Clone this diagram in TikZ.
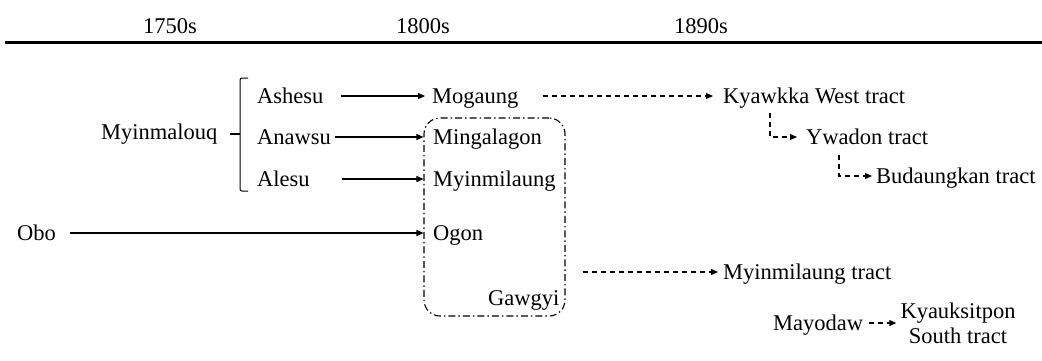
\documentclass[tikz,border=0pt]{standalone}
\usepackage{fontspec}
\setmainfont{Liberation Serif}
\usetikzlibrary{arrows.meta,calc}
\begin{document}
\begin{tikzpicture}[x=1pt,y=-1pt,
 lbl/.style={inner sep=0pt,anchor=base west,font=\fontsize{22.5}{26}\selectfont},
 arr/.style={line width=1.1pt,-{Triangle[length=7pt,width=6pt]}},
 darr/.style={arr,dash pattern=on 5pt off 4pt},
 grpbox/.style={draw,line width=1.1pt,rounded corners=16pt,dash pattern=on 7pt off 3pt on 1.5pt off 3pt,inner sep=0pt}]
\useasboundingbox (0,0) rectangle (1042,360);
% header
\node[lbl,anchor=base] (h1) at (170,33) {1750s};
\node[lbl,anchor=base] (h2) at (423,33) {1800s};
\node[lbl,anchor=base] (h3) at (701,33) {1890s};
\draw[line width=3pt] (5,42) -- (1042,42);
% nodes
\node[lbl] (myin) at (101,139) {Myinmalouq};
\node[lbl] (ashesu) at (257,103) {Ashesu};
\node[lbl] (anawsu) at (257,144) {Anawsu};
\node[lbl] (alesu) at (257,186) {Alesu};
\node[lbl] (obo) at (17,240) {Obo};
\node[lbl] (mogaung) at (432,103) {Mogaung};
\node[lbl] (ming) at (433,144) {Mingalagon};
\node[lbl] (myml) at (433,186) {Myinmilaung};
\node[lbl] (ogon) at (433,240) {Ogon};
\node[lbl] (gawgyi) at (488,305) {Gawgyi};
\node[grpbox,minimum width=141pt,minimum height=198pt] (grp) at (494.5,217) {};
\node[lbl] (kw) at (723,103) {Kyawkka West tract};
\node[lbl] (yw) at (806,144) {Ywadon tract};
\node[lbl] (bud) at (876,183) {Budaungkan tract};
\node[lbl] (mt) at (723,279) {Myinmilaung tract};
\node[lbl] (mayo) at (773,330) {Mayodaw};
\node[inner sep=0pt,font=\fontsize{22.5}{25}\selectfont,align=center] (kyauk) at (958,323) {Kyauksitpon\\South tract};
% bracket
\draw[line width=1pt,rounded corners=2pt] (248,78) -- (240,78) -- (240,191) -- (248,191);
\draw[line width=1.2pt] (230,134) -- (240,134);
% arrows
\draw[arr] ($(ashesu.base east)+(17,-7)$) -- ($(mogaung.base west)+(-7,-7)$);
\draw[arr] ($(anawsu.base east)+(4,-7)$) -- ($(grp.west|-ming.base)+(0,-7)$);
\draw[arr] ($(alesu.base east)+(32,-7)$) -- ($(grp.west|-myml.base)+(0,-7)$);
\draw[arr] ($(obo.base east)+(14,-7)$) -- ($(grp.west|-ogon.base)+(0,-7)$);
\draw[darr] ($(mogaung.base east)+(24,-7)$) -- ($(kw.base west)+(-10,-7)$);
\draw[darr] ($(kw.base west)+(47,10)$) |- ($(yw.base west)+(-9,-7)$);
\draw[darr] ($(yw.base west)+(33,11)$) |- ($(bud.base west)+(-4,-7)$);
\draw[darr] ($(grp.east|-mt.base)+(17,-7)$) -- ($(mt.base west)+(-5,-7)$);
\draw[darr] ($(mayo.base east)+(6,-7)$) -- ($(kyauk.west)+(-4,0)$);
\end{tikzpicture}
\end{document}
